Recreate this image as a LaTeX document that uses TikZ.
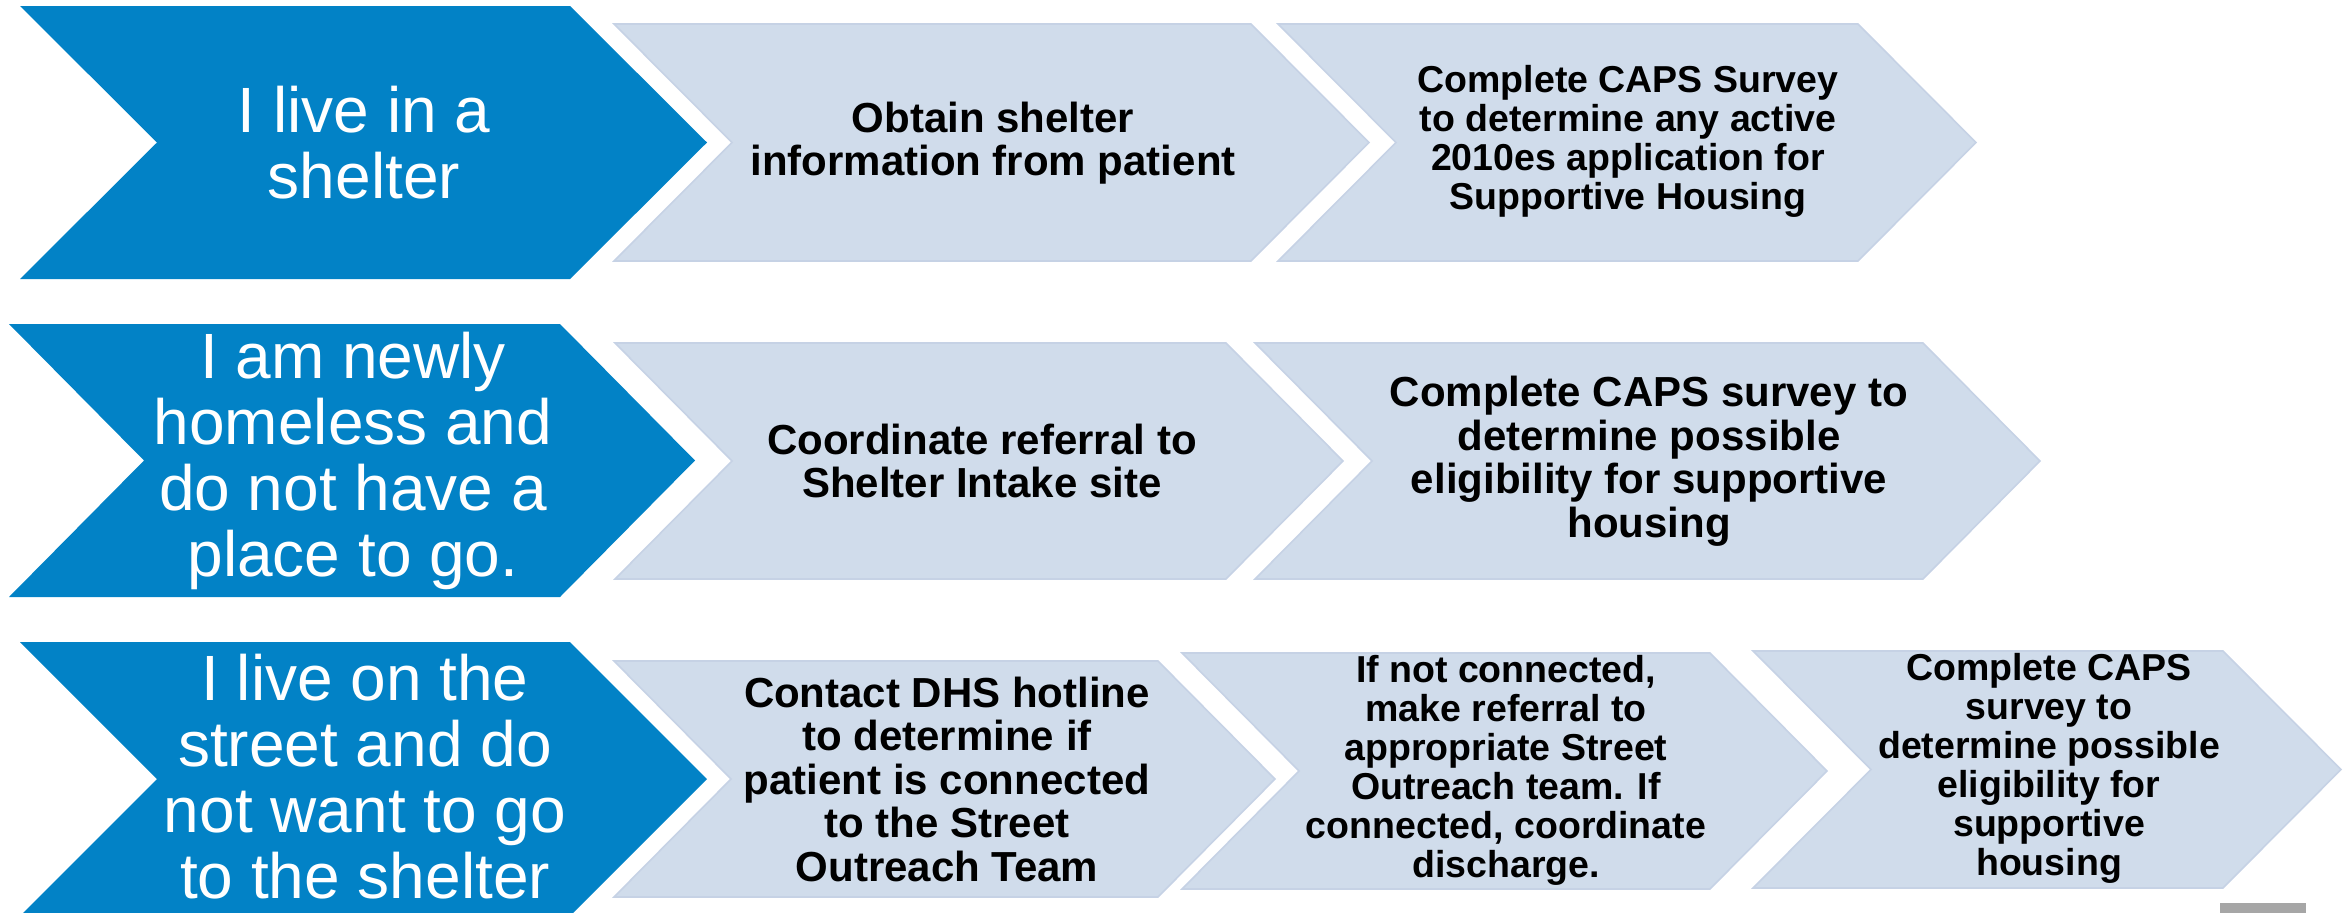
\documentclass[tikz,border=0pt]{standalone}
\usepackage{fontspec}
\setmainfont{Liberation Sans}
\definecolor{stepblue}{HTML}{0282C6}
\definecolor{steptint}{HTML}{D0DCEB}
\definecolor{stepedge}{HTML}{C6D2E5}
\definecolor{tabgray}{HTML}{A6A6A6}

% chevron outline: left x, flat right x, point depth, top y, bottom y
\newcommand\chevpath[5]{%
  (#1,#4) -- (#2,#4) -- ({#2+#3},{(#4+#5)/2}) -- (#2,#5) -- (#1,#5)
  -- ({#1+#3},{(#4+#5)/2}) -- cycle}

\tikzset{
  bluechev/.style={fill=stepblue},
  graychev/.style={fill=steptint, draw=stepedge, line width=1.6pt, line join=miter},
  lead/.style={text=white, align=center, inner sep=0pt,
    font=\fontsize{64}{66}\selectfont},
  actbig/.style={text=black, align=center, inner sep=0pt,
    font=\bfseries\fontsize{42}{43.5}\selectfont},
  actsmall/.style={text=black, align=center, inner sep=0pt,
    font=\bfseries\fontsize{37.5}{39}\selectfont},
}

\begin{document}
\begin{tikzpicture}[x=1pt, y=-1pt]
  \useasboundingbox (0,0) rectangle (2351,913);
  \begin{scope}
    \clip (0,0) rectangle (2351,913);

    % ---- row 1 : living in a shelter
    \fill[bluechev] \chevpath{20}{570}{137}{6}{279};
    \path[graychev] \chevpath{614}{1251}{118}{24}{261};
    \path[graychev] \chevpath{1278}{1858}{118}{24}{261};
    \node[lead] (r1lead) at (364,143) {I live in a\\shelter};
    \node[actbig] (r1a) at (993,143) {Obtain shelter\\information from patient};
    \node[actsmall] (r1b) at (1628,141) {Complete CAPS Survey\\to determine any active\\2010es application for\\Supportive Housing};

    % ---- row 2 : newly homeless
    \fill[bluechev] \chevpath{9}{560}{135}{324}{597};
    \path[graychev] \chevpath{615}{1226}{117}{343}{579};
    \path[graychev] \chevpath{1255}{1923}{117}{343}{579};
    \node[lead] (r2lead) at (353,461) {I am newly\\homeless and\\do not have a\\place to go.};
    \node[actbig] (r2a) at (982,461) {Coordinate referral to\\Shelter Intake site};
    \node[actbig] (r2b) at (1649,461) {Complete CAPS survey to\\determine possible\\eligibility for supportive\\housing};

    % ---- row 3 : living on the street
    \fill[bluechev] \chevpath{20}{570}{137}{642}{916};
    \path[graychev] \chevpath{614}{1158}{117}{661}{897};
    \path[graychev] \chevpath{1182}{1710}{117}{653}{889};
    \path[graychev] \chevpath{1753}{2223}{118}{651}{888};
    \node[lead] (r3lead) at (365,777) {I live on the\\street and do\\not want to go\\to the shelter};
    \node[actbig] (r3a) at (947,779) {Contact DHS hotline\\to determine if\\patient is connected\\to the Street\\Outreach Team};
    \node[actsmall] (r3b) at (1506,770) {If not connected,\\make referral to\\appropriate Street\\Outreach team. If\\connected, coordinate\\discharge.};
    \node[actsmall] (r3c) at (2049,768) {Complete CAPS\\survey to\\determine possible\\eligibility for\\supportive\\housing};

    % small grey tab at the lower edge
    \fill[tabgray] (2220,903) rectangle (2306,916);
  \end{scope}
\end{tikzpicture}
\end{document}
